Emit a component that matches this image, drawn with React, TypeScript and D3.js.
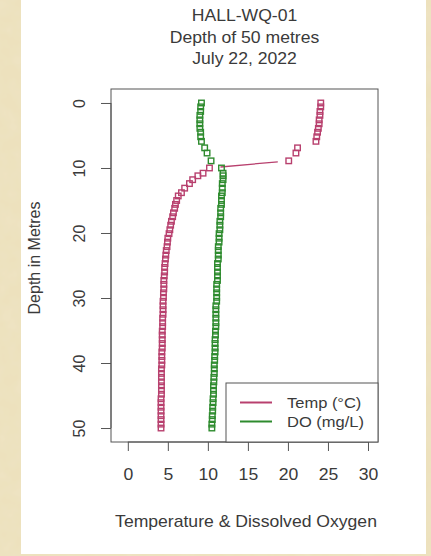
import { useRef, useEffect } from 'react'
import * as d3 from 'd3'

// profile readings, top to bottom
const depths = [
  0.0, 0.6, 1.3, 1.9, 2.6, 3.2, 3.9, 4.5, 5.2, 5.9,
  6.9, 7.7, 8.9, 10.0, 10.8, 11.2, 11.8, 12.4, 13.1, 13.8,
  14.3, 15.0, 15.6, 16.2, 16.9, 17.5, 18.2, 18.8, 19.5, 20.1,
  20.8, 21.4, 22.1, 22.7, 23.4, 24.0, 24.7, 25.3, 26.0, 26.6,
  27.3, 27.9, 28.6, 29.2, 29.9, 30.5, 31.2, 31.8, 32.5, 33.1,
  33.8, 34.4, 35.1, 35.7, 36.4, 37.0, 37.7, 38.3, 39.0, 39.6,
  40.3, 40.9, 41.6, 42.2, 42.9, 43.5, 44.2, 44.8, 45.5, 46.1,
  46.8, 47.4, 48.1, 48.7, 49.4, 50.0,
]
const tempC = [
  24.1, 24.1, 24.0, 24.0, 23.9, 23.9, 23.8, 23.7, 23.6, 23.5,
  21.2, 21.0, 20.1, 10.2, 9.4, 8.75, 8.1, 7.7, 7.1, 6.7,
  6.3, 6.1, 5.95, 5.85, 5.7, 5.6, 5.45, 5.35, 5.25, 5.15,
  5.0, 4.95, 4.9, 4.8, 4.75, 4.7, 4.65, 4.6, 4.6, 4.55,
  4.5, 4.5, 4.5, 4.45, 4.45, 4.4, 4.4, 4.4, 4.4, 4.35,
  4.35, 4.35, 4.3, 4.3, 4.3, 4.3, 4.3, 4.25, 4.25, 4.25,
  4.25, 4.2, 4.2, 4.2, 4.2, 4.2, 4.2, 4.2, 4.15, 4.15,
  4.15, 4.15, 4.15, 4.15, 4.15, 4.15,
]
const doMgL = [
  9.2, 9.1, 9.1, 9.0, 9.0, 9.0, 9.0, 9.1, 9.1, 9.2,
  9.6, 9.9, 10.4, 11.7, 11.9, 11.9, 11.9, 11.8, 11.8, 11.8,
  11.7, 11.7, 11.7, 11.6, 11.6, 11.6, 11.5, 11.5, 11.5, 11.4,
  11.4, 11.4, 11.3, 11.3, 11.3, 11.3, 11.2, 11.2, 11.2, 11.2,
  11.2, 11.1, 11.1, 11.1, 11.1, 11.1, 11.0, 11.0, 11.0, 11.0,
  11.0, 11.0, 10.95, 10.95, 10.9, 10.9, 10.9, 10.9, 10.85, 10.85,
  10.8, 10.8, 10.8, 10.75, 10.75, 10.7, 10.7, 10.7, 10.65, 10.65,
  10.6, 10.6, 10.55, 10.55, 10.5, 10.5,
]
const xTicks = [0, 5, 10, 15, 20, 25, 30]
const yTicks = [0, 10, 20, 30, 40, 50]
const titleLines = ['HALL-WQ-01', 'Depth of 50 metres', 'July 22, 2022']
const seriesNames = ['Temp (°C)', 'DO (mg/L)']
const seriesColors = ['#b8406e', '#2e8b2e']

const W = 431
const H = 556
const FONT = '"Liberation Sans", Arial, sans-serif'
const TXT = '#3a3a3a'
const STRETCH = 'scale(1.1, 1)' // source image is a little wider than tall

export default function App() {
  const svgRef = useRef<SVGSVGElement>(null)

  useEffect(() => {
    const svg = d3.select(svgRef.current)
    svg.selectAll('*').remove()

    const left = 111, right = 378, top = 89, bottom = 442
    const x = d3.scaleLinear().domain([-2.1, 31.25]).range([left, right])
    const y = d3.scaleLinear().domain([-2.15, 52.15]).range([top, bottom])

    // parchment + white panel
    const defs = svg.append('defs')
    const f = defs.append('filter').attr('id', 'parch').attr('x', 0).attr('y', 0).attr('width', 1).attr('height', 1)
    f.append('feTurbulence').attr('type', 'fractalNoise').attr('baseFrequency', 0.06).attr('numOctaves', 3).attr('seed', 4)
    f.append('feColorMatrix').attr('type', 'matrix')
      .attr('values', '0 0 0 0 0.86  0 0 0 0 0.80  0 0 0 0 0.62  0.6 0 0 0 -0.2')
    f.append('feComposite').attr('in2', 'SourceGraphic').attr('operator', 'over')
    svg.append('rect').attr('width', W).attr('height', H).attr('fill', '#ede1bd').attr('filter', 'url(#parch)')
    svg.append('rect').attr('x', 21).attr('y', 0).attr('width', 405).attr('height', 554).attr('fill', '#fff')

    // titles
    svg.append('g')
      .selectAll('text')
      .data(titleLines)
      .join('text')
      .attr('transform', (d, i) => `translate(${(left + right) / 2}, ${21 + i * 21.5}) ${STRETCH}`)
      .attr('text-anchor', 'middle')
      .attr('font-size', 16)
      .attr('fill', TXT)
      .text(d => d)

    // x axis
    const xAxis = d3.axisBottom(x).tickValues(xTicks).tickSize(9).tickPadding(18).tickFormat(d3.format('d'))
    const gx = svg.append('g').attr('transform', `translate(0, ${bottom})`).call(xAxis)
    gx.select('.domain').attr('d', `M${x(0)},0H${x(30)}`).attr('stroke', '#555')
    gx.selectAll('line').attr('stroke', '#555')
    gx.selectAll('text')
      .attr('font-size', 16).attr('font-family', FONT).attr('fill', TXT)
      .attr('transform', STRETCH)

    // y axis
    const yAxis = d3.axisLeft(y).tickValues(yTicks).tickSize(10).tickPadding(0).tickFormat(d3.format('d'))
    const gy = svg.append('g').attr('transform', `translate(${left}, 0)`).call(yAxis)
    gy.select('.domain').attr('d', `M0,${y(0)}V${y(50)}`).attr('stroke', '#555')
    gy.selectAll('line').attr('stroke', '#555')
    gy.selectAll('text')
      .attr('font-size', 16).attr('font-family', FONT).attr('fill', TXT)
      .attr('x', null).attr('dy', null)
      .attr('text-anchor', 'middle')
      .attr('transform', 'translate(-32, 0) rotate(-90) translate(0, 6)')

    // axis titles
    svg.append('text')
      .attr('transform', `translate(246, 527) ${STRETCH}`)
      .attr('text-anchor', 'middle').attr('font-size', 16).attr('fill', TXT)
      .text('Temperature & Dissolved Oxygen')
    svg.append('text')
      .attr('transform', `translate(40, 258) rotate(-90)`)
      .attr('text-anchor', 'middle').attr('font-size', 16).attr('fill', TXT)
      .text('Depth in Metres')

    // plot frame
    svg.append('rect')
      .attr('x', left).attr('y', top).attr('width', right - left).attr('height', bottom - top)
      .attr('fill', 'none').attr('stroke', '#555')

    // series: lines with gaps around points (type = "b"), then squares
    const gap = 11
    const series = [tempC, doMgL]
    series.forEach((vals, si) => {
      const pts = vals.map((v, i) => [x(v), y(depths[i])])
      const g = svg.append('g')
      for (let i = 1; i < pts.length; i++) {
        const [x0, y0] = pts[i - 1]
        const [x1, y1] = pts[i]
        const len = Math.hypot(x1 - x0, y1 - y0)
        if (len <= 2 * gap) continue
        const ux = (x1 - x0) / len, uy = (y1 - y0) / len
        g.append('line')
          .attr('x1', x0 + ux * gap).attr('y1', y0 + uy * gap)
          .attr('x2', x1 - ux * gap).attr('y2', y1 - uy * gap)
          .attr('stroke', seriesColors[si]).attr('stroke-width', 1.3)
      }
      g.selectAll('rect')
        .data(pts)
        .join('rect')
        .attr('x', d => d[0] - 2.75)
        .attr('y', d => d[1] - 2.75)
        .attr('width', 5.5).attr('height', 5.5)
        .attr('fill', 'none')
        .attr('stroke', seriesColors[si])
        .attr('stroke-width', 1.4)
    })

    // legend
    const lg = svg.append('g')
    lg.append('rect')
      .attr('x', 226).attr('y', 383).attr('width', right - 226).attr('height', bottom - 383)
      .attr('fill', '#fff').attr('stroke', '#555')
    seriesNames.forEach((name, i) => {
      const ly = 402.5 + i * 19
      lg.append('line')
        .attr('x1', 240).attr('x2', 272).attr('y1', ly).attr('y2', ly)
        .attr('stroke', seriesColors[i]).attr('stroke-width', 2)
      lg.append('text')
        .attr('transform', `translate(287, ${ly + 5.5}) ${STRETCH}`)
        .attr('font-size', 15).attr('fill', TXT)
        .text(name)
    })
  }, [])

  return (
    <div style={{ position: 'absolute', left: 0, top: 0 }}>
      <svg ref={svgRef} width={W} height={H} style={{ display: 'block', fontFamily: FONT }}></svg>
    </div>
  )
}
